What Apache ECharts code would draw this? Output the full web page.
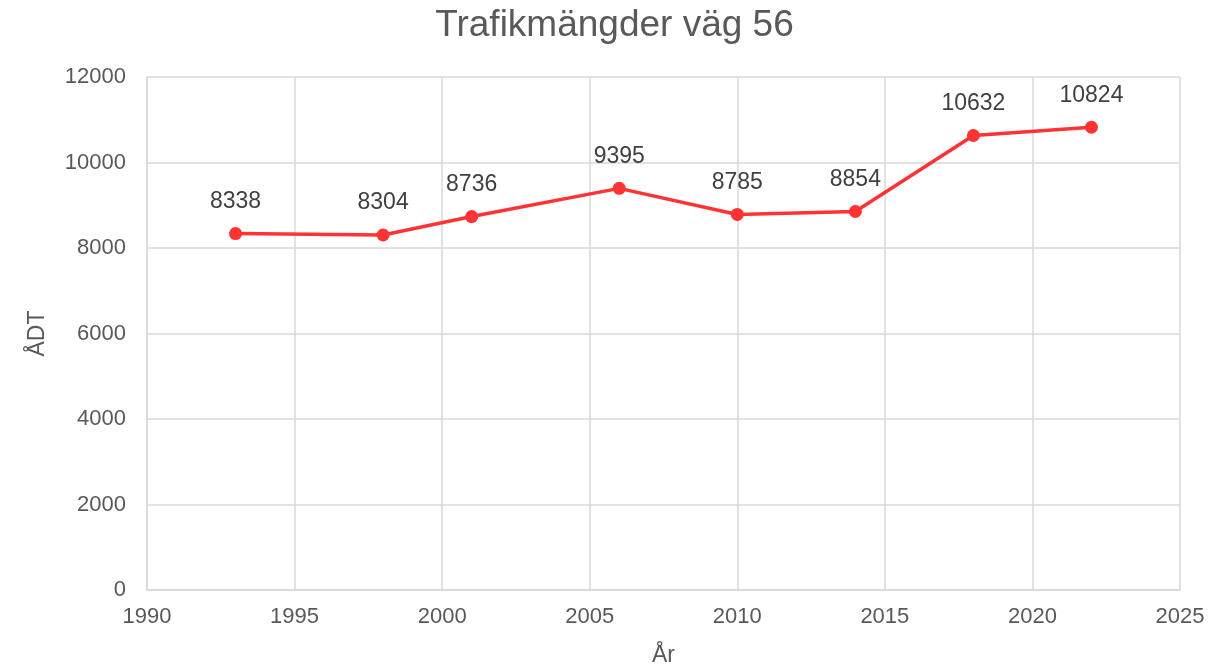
<!DOCTYPE html>
<html>
<head>
<meta charset="utf-8">
<script src="https://cdn.jsdelivr.net/npm/echarts@6/dist/echarts.min.js"></script>
<style>
  html, body { margin: 0; padding: 0; background: #fff; }
  #chart { width: 1229px; height: 667px; }
</style>
</head>
<body>
<div id="chart"></div>
<script>
// Trafikmängder väg 56 (ÅDT per år)
const years = [1993, 1998, 2001, 2006, 2010, 2014, 2018, 2022];
const adt = [8338, 8304, 8736, 9395, 8785, 8854, 10632, 10824];

const font = 'Liberation Sans, Arial, sans-serif';
const gridColor = '#d9d9d9';
const textColor = '#595959';

const myChart = echarts.init(document.getElementById('chart'));
myChart.setOption({
  animation: false,
  textStyle: { fontFamily: font },
  title: {
    text: 'Trafikmängder väg 56',
    left: 'center',
    top: 2,
    textStyle: { fontFamily: font, fontSize: 37, fontWeight: 'normal', color: textColor }
  },
  grid: { left: 147, right: 49, top: 77, bottom: 77, outerBoundsMode: 'none', containLabel: false },
  xAxis: {
    type: 'value',
    min: 1990,
    max: 2025,
    interval: 5,
    name: 'År',
    nameLocation: 'middle',
    nameGap: 54,
    nameTextStyle: { fontSize: 23, color: textColor, fontFamily: font },
    axisLine: { lineStyle: { color: gridColor, width: 1.5 } },
    axisTick: { show: false },
    axisLabel: { fontSize: 22, color: textColor, margin: 16, fontFamily: font, formatter: v => String(v) },
    splitLine: { lineStyle: { color: gridColor, width: 1.5 } }
  },
  yAxis: {
    type: 'value',
    min: 0,
    max: 12000,
    interval: 2000,
    name: 'ÅDT',
    nameLocation: 'middle',
    nameGap: 98,
    nameRotate: 90,
    nameTextStyle: { fontSize: 23, color: textColor, fontFamily: font },
    axisLine: { show: true, lineStyle: { color: gridColor, width: 1.5 } },
    axisTick: { show: false },
    axisLabel: { fontSize: 22, color: textColor, margin: 21, fontFamily: font, formatter: v => String(v) },
    splitLine: { lineStyle: { color: gridColor, width: 1.5 } }
  },
  series: [{
    type: 'line',
    data: years.map((y, i) => [y, adt[i]]),
    symbol: 'circle',
    symbolSize: 13,
    lineStyle: { color: '#ff3333', width: 3.5 },
    itemStyle: { color: '#ff3333' },
    label: {
      show: true,
      position: 'top',
      distance: 14,
      fontSize: 23,
      color: '#404040',
      fontFamily: font,
      formatter: p => p.value[1]
    }
  }]
});
</script>
</body>
</html>
